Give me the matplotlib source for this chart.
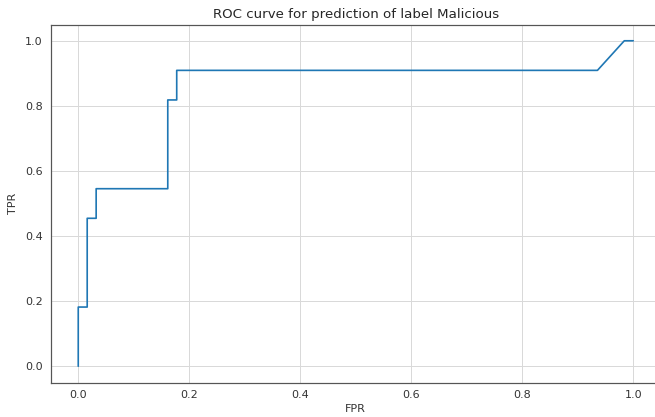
import matplotlib
matplotlib.use("Agg")
import matplotlib.pyplot as plt
import seaborn as sns

# ROC curve points (11 positives, 62 negatives)
fpr = [0.0, 0.0, 1/62, 1/62, 2/62, 2/62, 10/62, 10/62, 11/62, 11/62, 58/62, 61/62, 1.0]
tpr = [0.0, 2/11, 2/11, 5/11, 5/11, 6/11, 6/11, 9/11, 9/11, 10/11, 10/11, 1.0, 1.0]

sns.set_style("white")
plt.rcParams['font.family'] = ['DejaVu Sans']

DPI = 80
W, H = 655, 417
fig = plt.figure(figsize=(W / DPI, H / DPI), dpi=DPI)
ax = fig.add_axes([50.5 / W, 34.5 / H, (661 - 50.5) / W, (392.5 - 34.5) / H])
ax.plot(fpr, tpr, color="#1f77b4", linewidth=1.5)
ax.grid(True, color="#d9d9d9", linewidth=0.9)
ax.set_xlim(-0.05, 1.05)
ax.set_ylim(-0.05, 1.05)
ax.set_xticks([0.0, 0.2, 0.4, 0.6, 0.8, 1.0])
ax.set_yticks([0.0, 0.2, 0.4, 0.6, 0.8, 1.0])
ax.tick_params(labelsize=10, colors="#333333", length=0, pad=7)
ax.set_xlabel("FPR", fontsize=10, color="#333333", labelpad=3)
ax.set_ylabel("TPR", fontsize=10, color="#333333", labelpad=6)
ax.set_title("ROC curve for prediction of label Malicious", fontsize=12, color="#262626")
for s in ax.spines.values():
    s.set_color("#555555")
    s.set_linewidth(1.1)
ax.spines["right"].set_visible(False)

fig.savefig("out.png", dpi=DPI)
